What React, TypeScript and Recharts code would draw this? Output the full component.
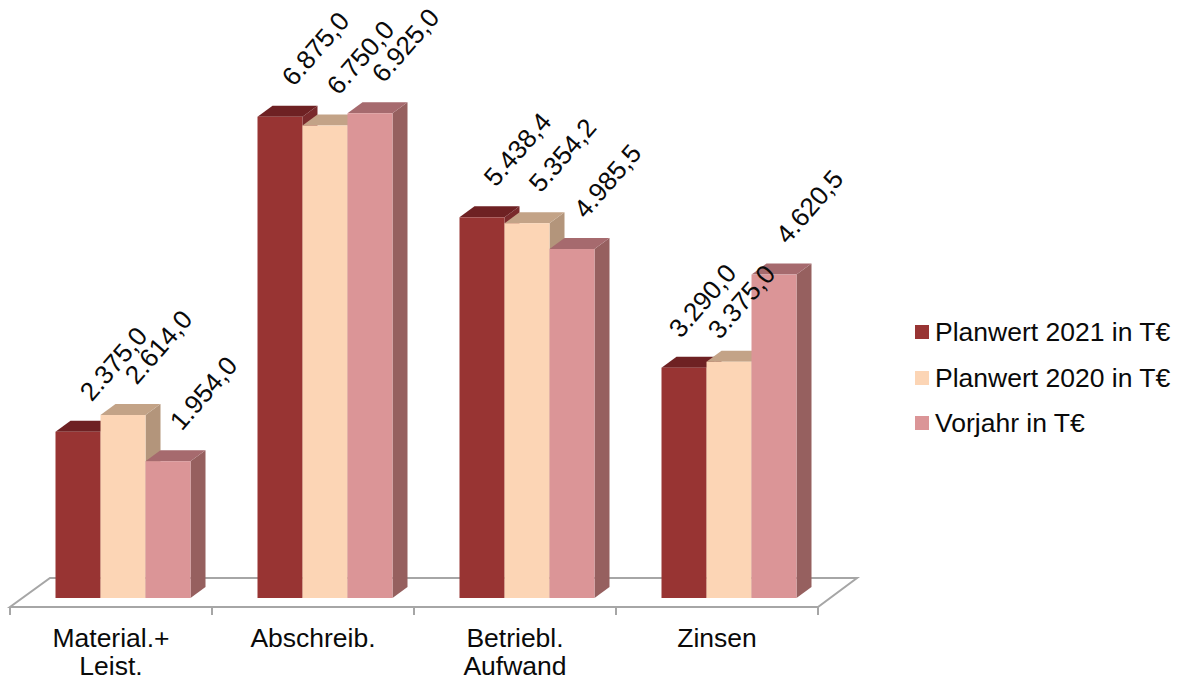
import React from 'react';
import { BarChart, Bar, XAxis, YAxis, Legend, LabelList, Customized } from 'recharts';

const categories = ['Material.+\nLeist.', 'Abschreib.', 'Betriebl.\nAufwand', 'Zinsen'];
const plan2021 = [2375.0, 6875.0, 5438.4, 3290.0];
const plan2020 = [2614.0, 6750.0, 5354.2, 3375.0];
const vorjahr = [1954.0, 6925.0, 4985.5, 4620.5];

const seriesNames = ['Planwert 2021 in T€', 'Planwert 2020 in T€', 'Vorjahr in T€'];
const seriesKeys = ['a', 'b', 'c'];
const seriesValues = [plan2021, plan2020, vorjahr];
const faceColors = ['#983433', '#FCD5B5', '#DB9597'];
const topColors = ['#6E2123', '#C3A387', '#A66A6E'];
const sideColors = ['#7A2A2C', '#B3957B', '#96605F'];

const data = categories.map((name, i) => ({
  name,
  a: seriesValues[0][i],
  b: seriesValues[1][i],
  c: seriesValues[2][i],
}));

const W = 1183;
const H = 681;
const LEFT = 10;
const RIGHT = 818;
const TOP = 108;
const BOTTOM = 598;
const FONT = '"Liberation Sans", Arial, sans-serif';
const FONT_SIZE = 26.5;
const SHIFT = 11.5;
const DEPTH_X = 15;
const DEPTH_Y = 11;

// Hand-moved data labels in the last group of the original chart.
const labelNudges: Record<string, [number, number]> = {
  'a-3': [-17, 1],
  'b-3': [-23, 8],
};

const Box = (color: number) => (props: any) => {
  const { x, y, width, height } = props;
  const l = x + SHIFT;
  const r = l + width;
  const b = y + height;
  return (
    <g>
      <polygon
        points={`${r},${y} ${r + DEPTH_X},${y - DEPTH_Y} ${r + DEPTH_X},${b - DEPTH_Y} ${r},${b}`}
        fill={sideColors[color]}
      />
      <polygon
        points={`${l},${y} ${l + DEPTH_X},${y - DEPTH_Y} ${r + DEPTH_X},${y - DEPTH_Y} ${r},${y}`}
        fill={topColors[color]}
      />
      <rect x={l} y={y} width={width} height={height} fill={faceColors[color]} />
    </g>
  );
};

const Floor = () => {
  const fy = BOTTOM + 9;
  const by = BOTTOM - 20;
  const band = (RIGHT - LEFT) / categories.length;
  return (
    <g>
      <polygon
        points={`${LEFT},${fy} ${RIGHT},${fy} ${RIGHT + 39},${by} ${LEFT + 40},${by}`}
        fill="#FFFFFF"
        stroke="#A6A6A6"
        strokeWidth={2}
      />
      {[0, 1, 2, 3, 4].map((i) => (
        <line
          key={i}
          x1={LEFT + i * band}
          x2={LEFT + i * band}
          y1={fy}
          y2={fy + 8}
          stroke="#A6A6A6"
          strokeWidth={2}
        />
      ))}
    </g>
  );
};

const CategoryTick = (props: any) => {
  const { x, payload } = props;
  const lines = String(payload.value).split('\n');
  return (
    <text x={x} y={BOTTOM + 49} textAnchor="middle" fontFamily={FONT} fontSize={FONT_SIZE} fill="#0A0A0A">
      {lines.map((t, i) => (
        <tspan key={i} x={x} dy={i === 0 ? 0 : 28}>
          {t}
        </tspan>
      ))}
    </text>
  );
};

const fmt = (v: number) =>
  v.toLocaleString('de-DE', { minimumFractionDigits: 1, maximumFractionDigits: 1 });

const ValueLabel = (key: string) => (props: any) => {
  const { x, y, width, value, index } = props;
  const nudge = labelNudges[`${key}-${index}`] || [0, 0];
  const cx = x + SHIFT + width / 2 + 35.5 + nudge[0];
  const cy = y - 68 + nudge[1];
  return (
    <text
      x={cx}
      y={cy}
      textAnchor="middle"
      dominantBaseline="central"
      fontFamily={FONT}
      fontSize={26}
      fill="#0A0A0A"
      transform={`rotate(-49 ${cx} ${cy})`}
    >
      {fmt(value)}
    </text>
  );
};

const LegendBox = (props: any) => {
  const items = props.payload || [];
  return (
    <div style={{ position: 'relative', width: 268, height: 138, fontFamily: FONT, fontSize: FONT_SIZE, color: '#0A0A0A' }}>
      {items.map((item: any, i: number) => (
        <div key={item.value} style={{ position: 'absolute', left: 0, top: i * 45.5, height: 30, width: 268 }}>
          <div style={{ position: 'absolute', left: 0, top: 8, width: 14, height: 14, background: item.color }} />
          <div style={{ position: 'absolute', left: 20, top: 0, lineHeight: '30px', whiteSpace: 'nowrap' }}>{item.value}</div>
        </div>
      ))}
    </div>
  );
};

export default function App() {
  return (
    <div style={{ position: 'absolute', left: 0, top: 0, width: W, height: H, overflow: 'hidden', background: '#fff' }}>
      <BarChart
        width={W}
        height={H}
        data={data}
        barGap={0}
        barSize={45}
        margin={{ top: TOP, right: W - RIGHT, bottom: 0, left: LEFT }}
      >
        <Customized component={Floor} />
        <XAxis
          dataKey="name"
          height={H - BOTTOM}
          interval={0}
          axisLine={false}
          tickLine={false}
          tick={CategoryTick}
        />
        <YAxis hide domain={[0, 7000]} />
        <Legend
          content={LegendBox}
          layout="vertical"
          align="center"
          verticalAlign="middle"
          itemSorter={null}
          wrapperStyle={{ position: 'absolute', left: 915, top: 317, width: 268, height: 138, bottom: 'auto', right: 'auto' }}
        />
        {seriesKeys.map((k, i) => (
          <Bar key={k} dataKey={k} name={seriesNames[i]} fill={faceColors[i]} shape={Box(i)} isAnimationActive={false}>
            <LabelList dataKey={k} content={ValueLabel(k)} />
          </Bar>
        ))}
      </BarChart>
    </div>
  );
}
